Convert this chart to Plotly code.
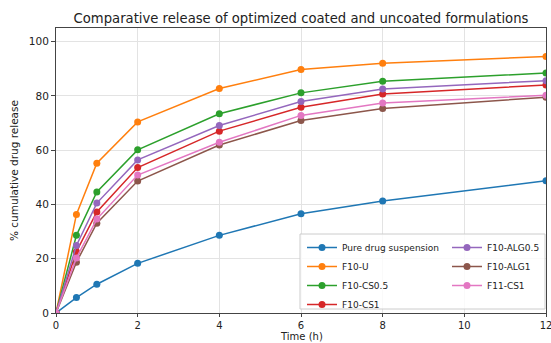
import plotly.graph_objects as go

time_h = [0, 0.5, 1, 2, 4, 6, 8, 12]

series_names = ["Pure drug suspension", "F10-U", "F10-CS0.5", "F10-CS1",
                "F10-ALG0.5", "F10-ALG1", "F11-CS1"]

pure_drug = [0, 5.7, 10.6, 18.3, 28.6, 36.6, 41.3, 48.7]
f10_u = [0, 36.3, 55.2, 70.4, 82.7, 89.7, 92.0, 94.5]
f10_cs05 = [0, 28.6, 44.6, 60.1, 73.4, 81.1, 85.4, 88.4]
f10_cs1 = [0, 22.6, 37.2, 53.6, 67.0, 75.8, 80.7, 84.0]
f10_alg05 = [0, 24.9, 40.5, 56.4, 69.1, 77.9, 82.5, 85.6]
f10_alg1 = [0, 18.7, 33.1, 48.6, 61.9, 70.9, 75.3, 79.5]
f11_cs1 = [0, 20.3, 34.6, 50.8, 62.9, 72.8, 77.4, 80.2]

x_ticks = [0, 2, 4, 6, 8, 10, 12]
y_ticks = [0, 20, 40, 60, 80, 100]

values = [pure_drug, f10_u, f10_cs05, f10_cs1, f10_alg05, f10_alg1, f11_cs1]
colors = ["#1f77b4", "#ff7f0e", "#2ca02c", "#d62728", "#9467bd", "#8c564b", "#e377c2"]
legend_ids = ["legend", "legend", "legend", "legend", "legend2", "legend2", "legend2"]

FONT = "DejaVu Sans"

fig = go.Figure()
for name, vals, col, lg in zip(series_names, values, colors, legend_ids):
    fig.add_trace(go.Scatter(
        x=time_h, y=vals, name=name, mode="lines+markers",
        line=dict(color=col, width=1.5),
        marker=dict(color=col, size=7),
        legend=lg,
    ))

W, H = 551, 343
ml, mr, mt, mb = 56, 5, 28, 30
pw, ph = W - ml - mr, H - mt - mb

def px_x(p):
    return (p - ml) / pw

def px_y(p):
    return (H - mb - p) / ph

leg1_left, leg2_left = 302, 447
leg_bottom, leg_top = 319, 233
box_top, box_bottom = 234, 309

legend_common = dict(
    font=dict(family=FONT, size=9, color="#222"),
    bgcolor="rgba(0,0,0,0)", borderwidth=0,
    itemwidth=30, tracegroupgap=0,
)

fig.update_layout(
    width=W, height=H,
    margin=dict(l=ml, r=mr, t=mt, b=mb, autoexpand=False),
    paper_bgcolor="white", plot_bgcolor="white",
    font=dict(family=FONT, size=10.5, color="#222"),
    title=dict(text="Comparative release of optimized coated and uncoated formulations",
               x=px_x(301), xref="paper", xanchor="center",
               y=1 - 18 / H, yref="container", yanchor="middle",
               font=dict(family=FONT, size=13.2, color="#222")),
    xaxis=dict(range=[0, 12], tickvals=x_ticks, automargin=False,
               ticklabeloverflow="allow", tickfont=dict(family=FONT, size=10),
               showgrid=True, gridcolor="#e3e3e3", gridwidth=0.8,
               showline=True, linecolor="#444", linewidth=1, mirror=True,
               ticks="outside", ticklen=3, tickcolor="#444", zeroline=False),
    yaxis=dict(range=[0, 105], tickvals=y_ticks, automargin=True,
               showgrid=True, gridcolor="#e3e3e3", gridwidth=0.8,
               showline=True, linecolor="#444", linewidth=1, mirror=True,
               ticks="outside", ticklen=4, tickcolor="#444", zeroline=False,
               title=dict(text="% cumulative drug release", standoff=8,
                          font=dict(family=FONT, size=10.5))),
    annotations=[dict(text="Time (h)", xref="paper", yref="paper",
                      x=px_x(301), y=px_y(H), xanchor="center", yanchor="bottom",
                      showarrow=False, borderpad=0,
                      font=dict(family=FONT, size=10, color="#222"))],
    legend=dict(x=px_x(leg1_left), xanchor="left", y=px_y(leg_bottom), yanchor="bottom",
                **legend_common),
    legend2=dict(x=px_x(leg2_left), xanchor="left", y=px_y(leg_top), yanchor="top",
                 **legend_common),
    shapes=[dict(type="rect", xref="paper", yref="paper", layer="above",
                 x0=px_x(leg1_left - 2), x1=px_x(545), y0=px_y(box_bottom), y1=px_y(box_top),
                 fillcolor="rgba(255,255,255,0.8)", line=dict(color="#cccccc", width=1))],
    showlegend=True,
)

fig.write_html("out.html")
